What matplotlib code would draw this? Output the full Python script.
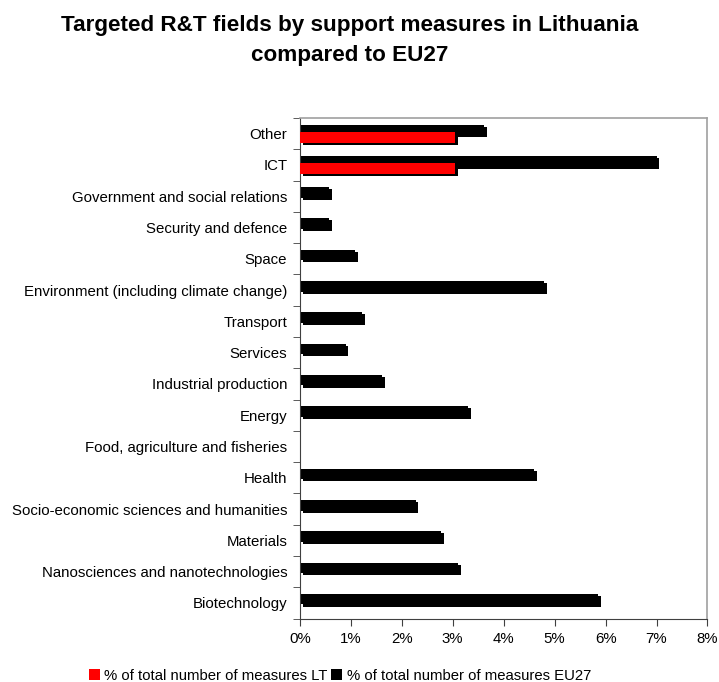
import matplotlib.pyplot as plt
import matplotlib.patheffects as pe
from matplotlib.patches import Patch
from matplotlib.ticker import PercentFormatter
import numpy as np

plt.rcParams['font.family'] = ['Liberation Sans', 'DejaVu Sans']

# Data (bottom to top)
categories = [
    "Biotechnology",
    "Nanosciences and nanotechnologies",
    "Materials",
    "Socio-economic sciences and humanities",
    "Health",
    "Food, agriculture and fisheries",
    "Energy",
    "Industrial production",
    "Services",
    "Transport",
    "Environment (including climate change)",
    "Space",
    "Security and defence",
    "Government and social relations",
    "ICT",
    "Other",
]
lt_values = [0, 0, 0, 0, 0, 0, 0, 0, 0, 0, 0, 0, 0, 0, 3.05, 3.05]
eu_values = [5.85, 3.1, 2.78, 2.27, 4.6, 0, 3.3, 1.62, 0.9, 1.22, 4.8, 1.08, 0.58, 0.58, 7.0, 3.62]

fig = plt.figure(figsize=(7.19, 6.82), dpi=100)
ax = fig.add_axes([0.417, 0.093, 0.567, 0.734])

y = np.arange(len(categories))
h = 0.34
shadow = [pe.SimplePatchShadow(offset=(2, -1.5), shadow_rgbFace='black', alpha=1), pe.Normal()]

eu_bars = ax.barh(y + 0.12, eu_values, height=h, color='black', zorder=2)
lt_bars = ax.barh(y - 0.12, lt_values, height=h, color='#ff0000', zorder=3)
for b in list(eu_bars) + list(lt_bars):
    if b.get_width() > 0:
        b.set_path_effects(shadow)

ax.set_xlim(0, 8)
ax.set_ylim(-0.5, len(categories) - 0.5)
ax.set_xticks(range(0, 9))
ax.xaxis.set_major_formatter(PercentFormatter(decimals=0))
ax.set_yticks(y)
ax.set_yticklabels(categories)
ax.set_yticks(np.arange(-0.5, len(categories)), minor=True)
ax.tick_params(axis='y', which='major', length=0, pad=9, labelsize=10.8)
ax.tick_params(axis='y', which='minor', length=5, color='#404040')
ax.tick_params(axis='x', length=5, color='#404040', labelsize=10.8, pad=5)

for s in ['left', 'bottom']:
    ax.spines[s].set_color('#404040')
for s in ['top', 'right']:
    ax.spines[s].set_color('#a0a0a0')
    ax.spines[s].set_linewidth(1.2)

fig.suptitle("Targeted R&T fields by support measures in Lithuania\ncompared to EU27",
             x=0.486, y=0.978, fontsize=16.2, fontweight='bold', linespacing=1.55)

handles = [Patch(facecolor='#ff0000'), Patch(facecolor='black')]
labels = ['% of total number of measures LT', '% of total number of measures EU27']
fig.legend(handles, labels, loc='center left',
           bbox_to_anchor=(0.115, 0.009), ncol=2, frameon=False, fontsize=10.7,
           handlelength=0.75, handleheight=0.75, handletextpad=0.3, columnspacing=0.25,
           borderaxespad=0)

fig.savefig("out.png", dpi=100)
